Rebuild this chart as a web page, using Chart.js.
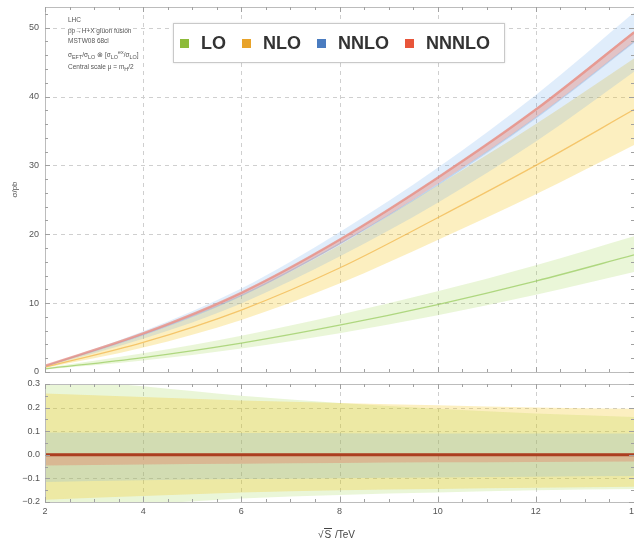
<!DOCTYPE html>
<html><head><meta charset="utf-8">
<script src="https://cdn.jsdelivr.net/npm/chart.js@4.4.1/dist/chart.umd.min.js"></script>
<style>
html,body{margin:0;padding:0;background:#fff;overflow:hidden;width:634px;height:548px}
#wrap{position:relative;width:660px;height:548px}
#c1{position:absolute;left:0;top:0}
#c2{position:absolute;left:0;top:378px}
.legend{position:absolute;left:173px;top:23px;width:332px;height:40px;border:1px solid #c9c9c9;background:#fff;display:flex;align-items:center;box-sizing:border-box;padding-left:6px;font-family:"Liberation Sans",Arial,sans-serif;font-weight:bold;font-size:18px;color:#333;box-shadow:0 0 2px rgba(0,0,0,0.12)}
.legend .item{display:flex;align-items:center;margin-right:16px}
.legend .mk{width:9px;height:9px;margin-right:12px}
.note{position:absolute;left:68px;top:15px;font-family:"Liberation Sans",Arial,sans-serif;font-size:6.5px;line-height:10.5px;color:#555;white-space:nowrap}
.xtitle{position:absolute;left:318px;top:529px;font-family:"Liberation Sans",Arial,sans-serif;font-size:10px;color:#444;white-space:nowrap}
.xtitle .ov{border-top:1px solid #444;padding:0 1px}
</style></head>
<body>
<div id="wrap">
<canvas id="c1" width="660" height="378"></canvas>
<canvas id="c2" width="660" height="170"></canvas>
<div class="legend" id="legend"></div>
<div class="note">LHC<br>pp→H+X gluon fusion<br>MSTW08 68cl<br>σ<sub>EFT</sub>/σ<sub>LO</sub> ⊗ [σ<sub>LO</sub><sup>ex</sup>/σ<sub>LO</sub>]<br>Central scale μ = m<sub>H</sub>/2</div>
<div class="xtitle">√<span class="ov">S</span> /TeV</div>
</div>
<script>
// ---------- data ----------
const sqrtS = [2, 4, 6, 8, 10, 12, 14];                 // TeV
const orderNames = ['LO', 'NLO', 'NNLO', 'NNNLO'];

// central cross sections (pb)
const sigmaLO    = [0.45, 2.1, 4.2, 6.8, 9.8, 13.2, 17.0];
const sigmaNLO   = [0.7, 4.3, 9.0, 15.1, 22.4, 30.0, 38.1];
const sigmaNNLO  = [0.85, 5.4, 11.1, 18.6, 27.2, 36.9, 47.9];
const sigmaNNNLO = [0.9, 5.6, 11.5, 19.2, 28.2, 38.1, 49.3];

// relative scale uncertainty (upper / lower), as in the lower panel
const relUpLO      = [0.33, 0.29, 0.25, 0.22, 0.195, 0.175, 0.16];
const relDownLO    = [-0.23, -0.21, -0.185, -0.17, -0.16, -0.15, -0.145];
const relUpNLO     = [0.26, 0.245, 0.23, 0.22, 0.21, 0.2, 0.195];
const relDownNLO   = [-0.19, -0.175, -0.16, -0.15, -0.145, -0.14, -0.135];
const relUpNNLO    = [0.095, 0.093, 0.092, 0.091, 0.09, 0.09, 0.09];
const relDownNNLO  = [-0.115, -0.108, -0.103, -0.099, -0.096, -0.093, -0.09];
const relUpNNNLO   = [0.004, 0.004, 0.004, 0.004, 0.004, 0.004, 0.004];
const relDownNNNLO = [-0.045, -0.041, -0.038, -0.035, -0.032, -0.03, -0.028];

// tick labels
const xTickValues = [2, 4, 6, 8, 10, 12, 14];
const yTickValuesTop = [0, 10, 20, 30, 40, 50];
const yTickValuesRatio = [-0.2, -0.1, 0.0, 0.1, 0.2, 0.3];

// ---------- styles ----------
const styles = {
  LO:    {mark:'#8dbb3a', fill:'rgba(150,210,60,0.20)', line:'rgba(125,190,55,0.55)', lw:1.3, rline:'rgba(125,190,55,0.6)'},
  NLO:   {mark:'#e8a32a', fill:'rgba(246,198,30,0.28)', line:'rgba(240,170,50,0.6)',  lw:1.3, rline:'rgba(240,170,50,0.6)'},
  NNLO:  {mark:'#4a7cc0', fill:'rgba(90,160,235,0.19)', line:'rgba(110,160,215,0.3)', lw:1.3, rline:'rgba(90,140,200,0.5)'},
  NNNLO: {mark:'#e8553a', fill:'rgba(232,100,75,0.30)', line:'rgba(232,140,128,0.75)', lw:2.5, rline:'rgb(172,62,32)'}
};

const series = [
  {name:orderNames[0], c:sigmaLO,    up:relUpLO,    dn:relDownLO},
  {name:orderNames[1], c:sigmaNLO,   up:relUpNLO,   dn:relDownNLO},
  {name:orderNames[2], c:sigmaNNLO,  up:relUpNNLO,  dn:relDownNNLO},
  {name:orderNames[3], c:sigmaNNNLO, up:relUpNNNLO, dn:relDownNNNLO}
];

// legend
const lg = document.getElementById('legend');
series.forEach(s => {
  const it = document.createElement('div'); it.className = 'item';
  const mk = document.createElement('div'); mk.className = 'mk'; mk.style.background = styles[s.name].mark;
  const tx = document.createElement('span'); tx.textContent = s.name;
  it.appendChild(mk); it.appendChild(tx); lg.appendChild(it);
});

Chart.defaults.font.family = '"Liberation Sans", Arial, sans-serif';
Chart.defaults.color = '#555';

function buildDatasets(ratio) {
  const bands = [], lines = [];
  series.forEach((s, i) => {
    const st = styles[s.name];
    const upper = sqrtS.map((x, k) => ({x, y: ratio ? s.up[k] : s.c[k] * (1 + s.up[k])}));
    const lower = sqrtS.map((x, k) => ({x, y: ratio ? s.dn[k] : s.c[k] * (1 + s.dn[k])}));
    const mid   = sqrtS.map((x, k) => ({x, y: ratio ? s.c[k] / s.c[k] - 1 : s.c[k]}));
    bands.push({label: s.name + ' up', data: upper, fill: '+1', backgroundColor: st.fill,
      borderWidth: 0, pointRadius: 0, cubicInterpolationMode: 'monotone', order: 20 - i});
    bands.push({label: s.name + ' down', data: lower, fill: false, borderWidth: 0,
      pointRadius: 0, cubicInterpolationMode: 'monotone', order: 20 - i});
    lines.push({label: s.name, data: mid, fill: false,
      borderColor: ratio ? st.rline : st.line, borderWidth: ratio ? (s.name === 'NNNLO' ? 3 : 1.5) : st.lw,
      pointRadius: 0, cubicInterpolationMode: 'monotone', order: 10 - i});
  });
  return bands.concat(lines);
}

const framePlugin = {
  id: 'frame',
  beforeDatasetsDraw(chart, args, o) {
    const {ctx, chartArea: a, scales: {x, y}} = chart;
    ctx.save();
    ctx.strokeStyle = '#cfcfcf'; ctx.lineWidth = 1; ctx.setLineDash([4, 4]);
    o.xGrid.forEach(v => {
      const p = Math.round(x.getPixelForValue(v)) + 0.5;
      if (p <= a.left + 1 || p >= a.right - 1) return;
      ctx.beginPath(); ctx.moveTo(p, a.top); ctx.lineTo(p, a.bottom); ctx.stroke();
    });
    o.yGrid.forEach(v => {
      const p = Math.round(y.getPixelForValue(v)) + 0.5;
      if (p <= a.top + 1 || p >= a.bottom - 1) return;
      ctx.beginPath(); ctx.moveTo(a.left, p); ctx.lineTo(a.right, p); ctx.stroke();
    });
    ctx.restore();
  },
  afterDatasetsDraw(chart, args, o) {
    const {ctx, chartArea: a, scales: {x, y}} = chart;
    ctx.save();
    ctx.strokeStyle = '#bcbcbc'; ctx.lineWidth = 1; ctx.setLineDash([]);
    ctx.strokeRect(Math.round(a.left) + 0.5, Math.round(a.top) + 0.5,
      Math.round(a.right - a.left), Math.round(a.bottom - a.top));
    ctx.strokeStyle = '#a0a0a0';
    const tick = (x1, y1, x2, y2) => { ctx.beginPath(); ctx.moveTo(x1, y1); ctx.lineTo(x2, y2); ctx.stroke(); };
    for (let v = x.min, n = 0; v <= x.max + 1e-9; v = x.min + (++n) * o.xMinor) {
      const p = Math.round(x.getPixelForValue(v)) + 0.5;
      const L = (n % Math.round(o.xMajor / o.xMinor) === 0) ? 5 : 3;
      tick(p, a.bottom, p, a.bottom - L); tick(p, a.top, p, a.top + L);
    }
    const y0 = o.yStart;
    for (let n = 0; ; n++) {
      const v = y0 + n * o.yMinor; if (v > y.max + 1e-9) break;
      const p = Math.round(y.getPixelForValue(v)) + 0.5;
      const L = (n % Math.round(o.yMajor / o.yMinor) === 0) ? 5 : 3;
      tick(a.left, p, a.left + L, p); tick(a.right, p, a.right - L, p);
    }
    ctx.restore();
  }
};

const tickFont = {size: 9};
const fmtMinus = s => String(s).replace('-', '\u2212');
const fixY = s => { s.width = 45; s.paddingTop = 0; s.paddingBottom = 0; };

new Chart(document.getElementById('c1'), {
  type: 'line',
  data: {datasets: buildDatasets(false)},
  plugins: [framePlugin],
  options: {
    responsive: false, animation: false,
    layout: {padding: {top: 7, right: 26, left: 0, bottom: 6}},
    plugins: {legend: {display: false}, tooltip: {enabled: false},
      frame: {xGrid: xTickValues, yGrid: yTickValuesTop, xMinor: 0.5, xMajor: 2, yStart: 0, yMinor: 2, yMajor: 10}},
    scales: {
      x: {type: 'linear', display: false, min: 2, max: 14},
      y: {type: 'linear', min: 0, max: 53,
        afterBuildTicks: s => { s.ticks = yTickValuesTop.map(v => ({value: v})); },
        afterFit: fixY,
        grid: {display: false, drawTicks: false}, border: {display: false},
        ticks: {font: tickFont, color: '#555', padding: 6, callback: v => fmtMinus(v)},
        title: {display: true, text: 'σ/pb', font: {size: 8}, color: '#555', padding: {top: 10, bottom: 0}}
      }
    }
  }
});

new Chart(document.getElementById('c2'), {
  type: 'line',
  data: {datasets: buildDatasets(true)},
  plugins: [framePlugin],
  options: {
    responsive: false, animation: false,
    layout: {padding: {top: 6, right: 26, left: 0, bottom: 0}},
    plugins: {legend: {display: false}, tooltip: {enabled: false},
      frame: {xGrid: xTickValues, yGrid: yTickValuesRatio, xMinor: 0.5, xMajor: 2, yStart: -0.2, yMinor: 0.05, yMajor: 0.1}},
    scales: {
      x: {type: 'linear', min: 2, max: 14,
        afterBuildTicks: s => { s.ticks = xTickValues.map(v => ({value: v})); },
        afterFit: s => { s.height = 46; },
        grid: {display: false, drawTicks: false}, border: {display: false},
        ticks: {font: tickFont, color: '#555', padding: 4, maxRotation: 0}
      },
      y: {type: 'linear', min: -0.2, max: 0.3,
        afterBuildTicks: s => { s.ticks = yTickValuesRatio.map(v => ({value: v})); },
        afterFit: fixY,
        grid: {display: false, drawTicks: false}, border: {display: false},
        ticks: {font: tickFont, color: '#555', padding: 5, callback: v => fmtMinus(Number(v).toFixed(1))}
      }
    }
  }
});
</script>
</body></html>
